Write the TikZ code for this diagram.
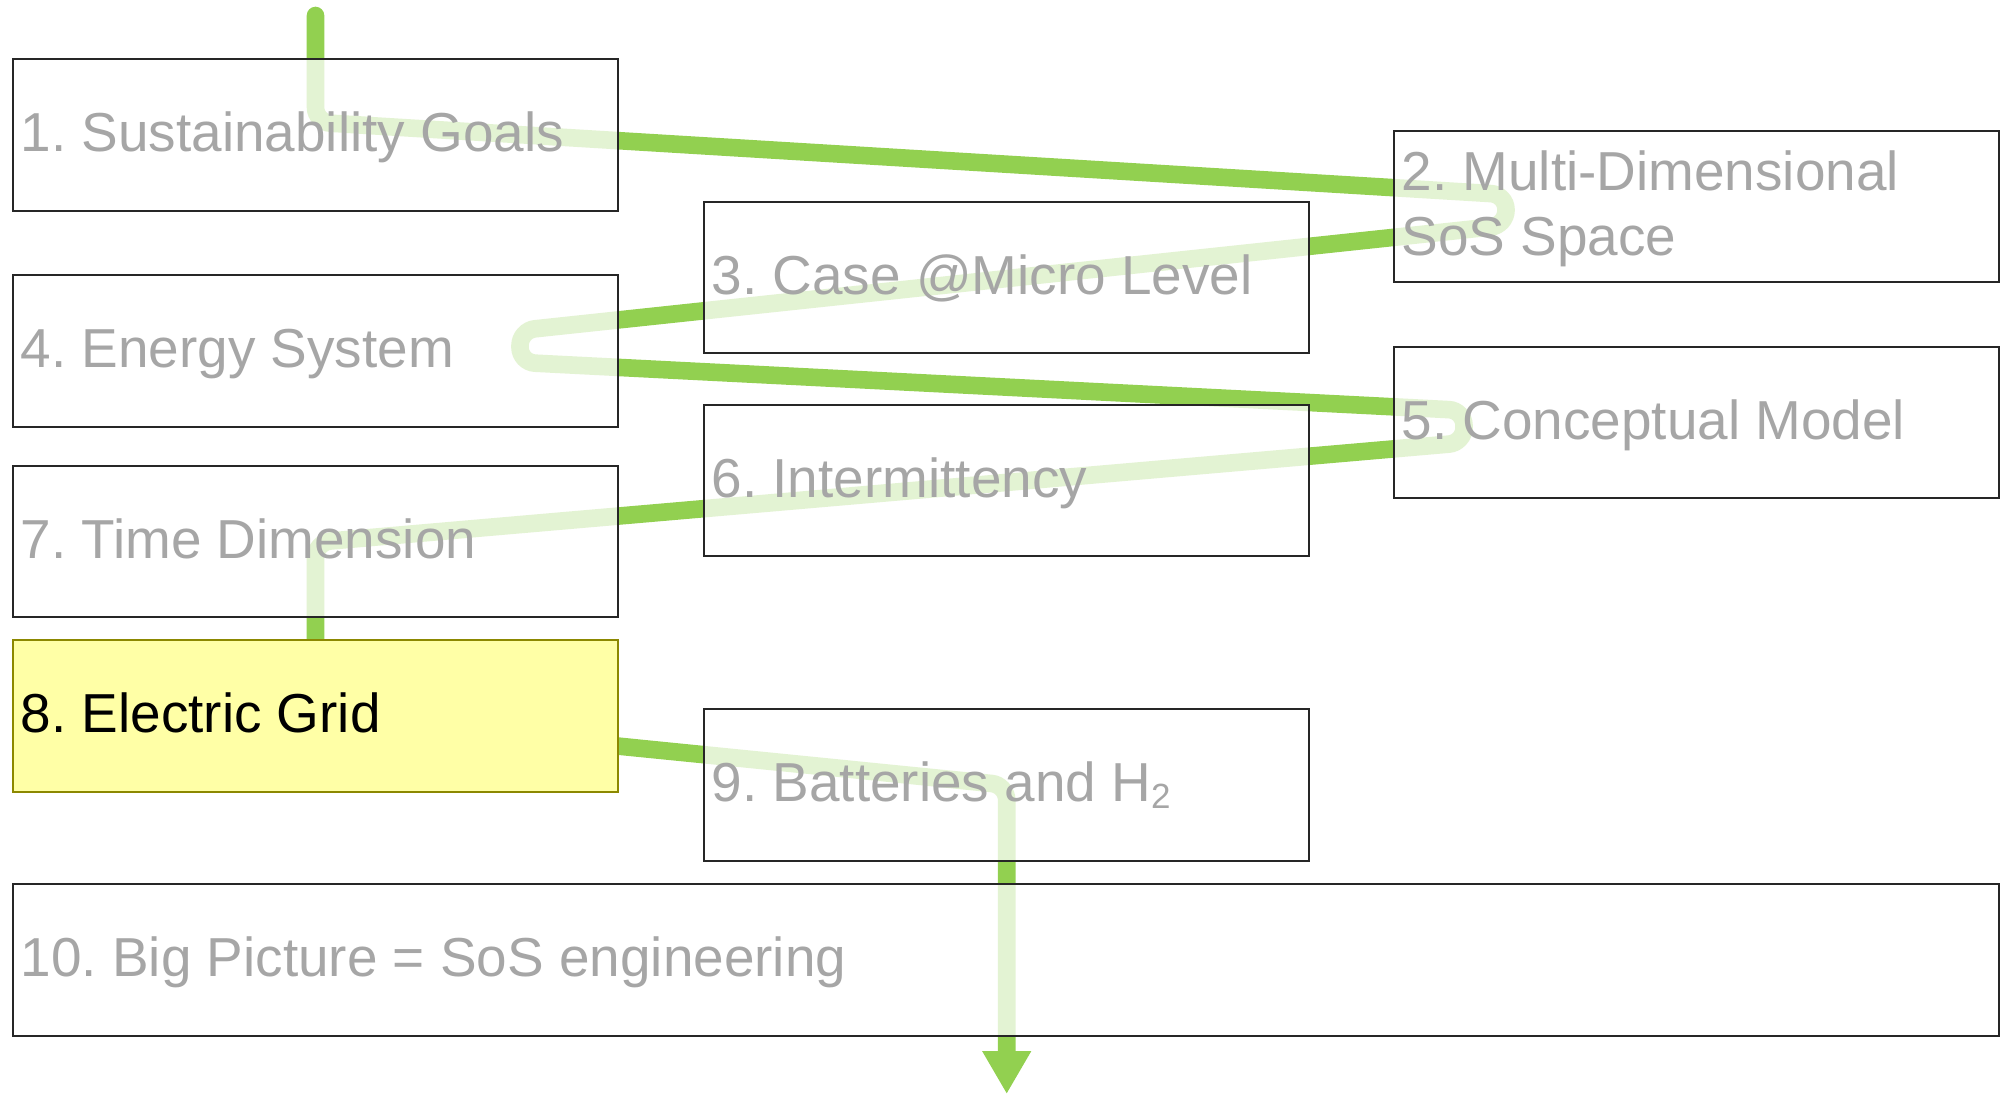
\documentclass[tikz,border=0pt]{standalone}
\usepackage{fontspec}
\setmainfont{Liberation Sans}
\usetikzlibrary{arrows.meta,calc}
\definecolor{flow}{HTML}{92D050}
\definecolor{labelgray}{HTML}{A6A6A6}
\definecolor{edgegray}{HTML}{262626}
\definecolor{hilite}{HTML}{FFFFA6}
\definecolor{hiliteedge}{HTML}{8C8800}
\frenchspacing

\begin{document}
\begin{tikzpicture}[x=1pt,y=-1pt,
  stagebox/.style={draw=edgegray, line width=2pt, fill=white, fill opacity=0.75,
    draw opacity=1, minimum height=151.4pt, anchor=north west, inner sep=0pt, outer sep=0pt},
  narrow/.style={minimum width=605pt},
  wide/.style={minimum width=1986pt},
  current/.style={fill=hilite, fill opacity=1, draw=hiliteedge},
  stagetext/.style={anchor=base west, inner sep=0pt, text=labelgray,
    font=\fontsize{54.9}{65}\selectfont},
  flowline/.style={draw=flow, line width=17.6pt, line cap=round, rounded corners=15pt}
]
\useasboundingbox (0,0) rectangle (2004,1094);

% waypoints of the reading route
\coordinate (s)   at (315.5, 15.5);
\coordinate (c1)  at (315.5, 122.3);
\coordinate (c2)  at (1506, 194.5);
\coordinate (c3)  at (1506, 225.4);
\coordinate (c4)  at (520, 330.4);
\coordinate (c5)  at (520, 362.4);
\coordinate (c6)  at (1464, 410.4);
\coordinate (c7)  at (1464, 442.8);
\coordinate (c8)  at (315.5, 542.3);
\coordinate (c9)  at (315.5, 715.8);
\coordinate (c10) at (1006.7, 785);
\coordinate (e)   at (1006.7, 1094);

% the route runs underneath the translucent boxes
\draw[flowline, -{Triangle[width=46pt,length=43pt]}]
  (s) -- (c1) -- (c2) -- (c3) -- (c4) -- (c5) -- (c6) -- (c7)
  -- (c8) -- (c9) -- (c10) -- (e);

% stage boxes
\node[stagebox, narrow] (b1) at (13, 59.3) {};
\node[stagebox, narrow] (b2) at (1394, 130.7) {};
\node[stagebox, narrow] (b3) at (704, 202) {};
\node[stagebox, narrow] (b4) at (13, 275.3) {};
\node[stagebox, narrow] (b5) at (1394, 346.7) {};
\node[stagebox, narrow] (b6) at (704, 404.7) {};
\node[stagebox, narrow] (b7) at (13, 466) {};
\node[stagebox, narrow, current] (b8) at (13, 640.3) {};
\node[stagebox, narrow] (b9) at (704, 709.3) {};
\node[stagebox, wide] (b10) at (13, 884.3) {};

% stage labels
\node[stagetext] (t1) at ($(b1.west)+(7.5,16.7)$) {1. Sustainability Goals};
\node[stagetext] (t2a) at ($(b2.west)+(7.5,-15.8)$) {2. Multi-Dimensional};
\node[stagetext] (t2b) at ($(b2.west)+(7.5,49.2)$) {SoS Space};
\node[stagetext] (t3) at ($(b3.west)+(7.5,16.7)$) {3. Case @Micro Level};
\node[stagetext] (t4) at ($(b4.west)+(7.5,16.7)$) {4. Energy System};
\node[stagetext] (t5) at ($(b5.west)+(7.5,16.7)$) {5. Conceptual Model};
\node[stagetext] (t6) at ($(b6.west)+(7.5,16.7)$) {6. Intermittency};
\node[stagetext] (t7) at ($(b7.west)+(7.5,16.7)$) {7. Time Dimension};
\node[stagetext, text=black] (t8) at ($(b8.west)+(7.5,16.7)$) {8. Electric Grid};
\node[stagetext] (t9) at ($(b9.west)+(7.5,16.7)$)
  {9. Batteries and H\raisebox{-6.3pt}{\fontsize{35}{35}\selectfont 2}};
\node[stagetext] (t10) at ($(b10.west)+(7.5,16.7)$) {10. Big Picture = SoS engineering};
\end{tikzpicture}
\end{document}
